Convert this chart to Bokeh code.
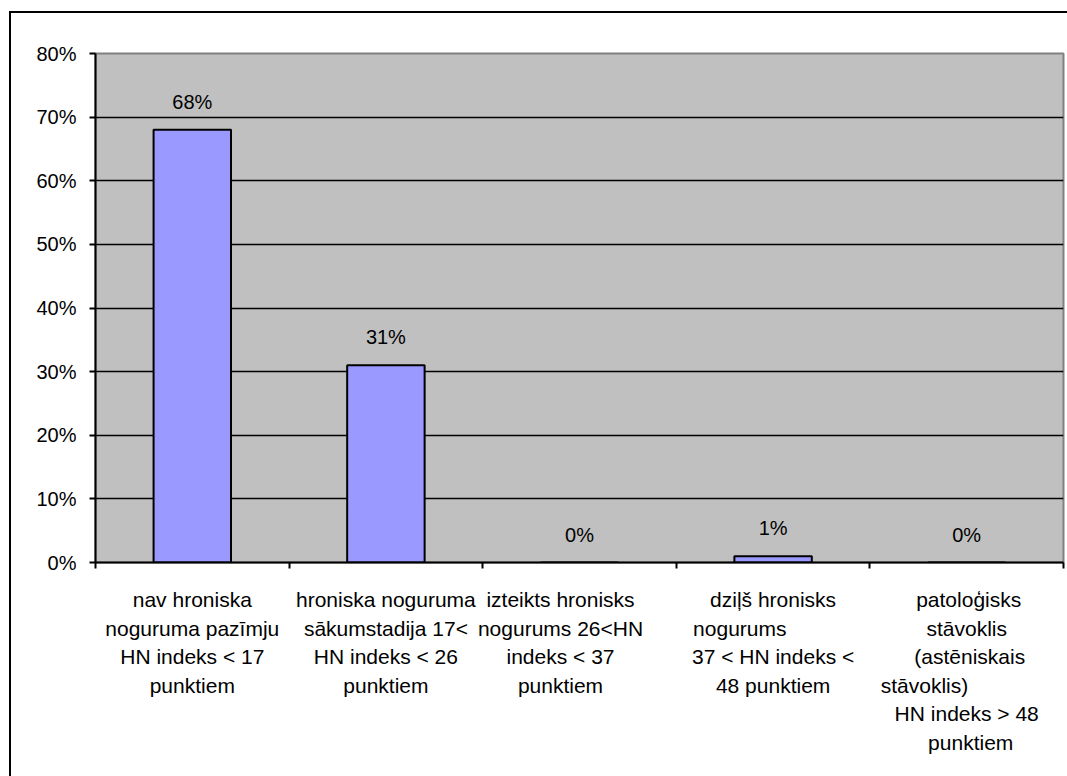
from bokeh.plotting import figure
from bokeh.layouts import column
from bokeh.models import ColumnDataSource, LabelSet, FixedTicker, NumeralTickFormatter, Range1d
from bokeh.core.properties import value
from bokeh.embed import file_html
from bokeh.resources import INLINE

# Share of respondents per chronic-fatigue (HN index) group
groups = [
    "nav hroniska noguruma pazīmju HN indeks < 17 punktiem",
    "hroniska noguruma sākumstadija 17< HN indeks < 26 punktiem",
    "izteikts hronisks nogurums 26<HN indeks < 37 punktiem",
    "dziļš hronisks nogurums 37 < HN indeks < 48 punktiem",
    "patoloģisks stāvoklis (astēniskais stāvoklis) HN indeks > 48 punktiem",
]
shares = [0.68, 0.31, 0.00, 0.01, 0.00]

# Wrapped lines of each group name as they are laid out under the axis
group_lines = [
    ["nav hroniska", "noguruma pazīmju", "HN indeks < 17", "punktiem"],
    ["hroniska noguruma", "sākumstadija 17<", "HN indeks < 26", "punktiem"],
    ["izteikts hronisks", "nogurums 26<HN", "indeks < 37", "punktiem"],
    ["dziļš hronisks", "nogurums", "37 < HN indeks <", "48 punktiem"],
    ["patoloģisks", "stāvoklis", "(astēniskais", "stāvoklis)", "HN indeks > 48", "punktiem"],
]
y_ticks = [0.0, 0.1, 0.2, 0.3, 0.4, 0.5, 0.6, 0.7, 0.8]

# ---- layout constants -------------------------------------------------
W = 1056
LEFT, TOP, RIGHT = 84, 40, 4
FRAME_H = 509
AXIS_H = 14
MAIN_H = TOP + FRAME_H + AXIS_H
NAMES_H = 763 - MAIN_H
Y_MAX = 0.8
N = len(groups)
FRAME_W = W - LEFT - RIGHT
PX_X = N / FRAME_W          # data units per pixel, horizontally
PX_Y = Y_MAX / FRAME_H      # data units per pixel, vertically
FONT = "Liberation Sans"
FS = "20px"
NAME_FS = "21px"
LINE_GAP = 28.5             # spacing between wrapped lines, px
FIRST_BASE = 23             # first baseline below the top of the name strip, px

# horizontal placement of each wrapped line: (pixel shift from group centre, alignment)
line_place = [
    [(0, "center")] * 4,
    [(0, "center")] * 4,
    [(-19, "center")] * 4,
    [(0, "center"), (-80, "left"), (0, "center"), (0, "center")],
    [(2, "center"), (0, "center"), (3, "center"), (-86, "left"), (0, "center"), (4, "center")],
]

p = figure(
    width=W, height=MAIN_H,
    x_range=Range1d(0, N), y_range=Range1d(0, Y_MAX),
    output_backend="svg", toolbar_location=None, tools="",
    min_border_left=LEFT, min_border_top=TOP,
    min_border_right=RIGHT, min_border_bottom=AXIS_H,
)
p.background_fill_color = "#C0C0C0"
p.border_fill_color = "white"
p.outline_line_color = "#808080"
p.outline_line_width = 2

# bars
centers = [i + 0.5 for i in range(N)]
bar_src = ColumnDataSource(dict(x=centers, top=shares))
p.vbar(x="x", top="top", width=0.4, bottom=0, source=bar_src,
       fill_color="#9999FF", line_color="black", line_width=2)

# value labels above bars
val_src = ColumnDataSource(dict(
    x=centers,
    y=[s + 21 * PX_Y for s in shares],
    t=[f"{round(s * 100)}%" for s in shares],
))
p.add_layout(LabelSet(x="x", y="y", text="t", source=val_src,
                      text_align="center", text_baseline="alphabetic",
                      text_font=value(FONT), text_font_size=value(FS),
                      text_color="black"))

# y axis
p.yaxis.ticker = FixedTicker(ticks=y_ticks)
p.yaxis.formatter = NumeralTickFormatter(format="0%")
p.yaxis.major_label_text_font = FONT
p.yaxis.major_label_text_font_size = FS
p.yaxis.major_label_text_color = "black"
p.yaxis.major_label_standoff = 13
p.yaxis.major_tick_in = 0
p.yaxis.major_tick_out = 6
p.yaxis.minor_tick_line_color = None
p.yaxis.axis_line_width = 2
p.yaxis.major_tick_line_width = 2
p.yaxis.axis_line_color = "black"
p.yaxis.major_tick_line_color = "black"

# x axis: ticks on group boundaries, names drawn in the strip below
p.xaxis.ticker = FixedTicker(ticks=list(range(N + 1)))
p.xaxis.major_label_overrides = {k: "" for k in range(N + 1)}
p.xaxis.major_label_text_font_size = "1px"
p.xaxis.major_label_standoff = 0
p.xaxis.major_tick_in = 0
p.xaxis.major_tick_out = 6
p.xaxis.minor_tick_line_color = None
p.xaxis.axis_line_width = 2
p.xaxis.major_tick_line_width = 2
p.xaxis.axis_line_color = "black"
p.xaxis.major_tick_line_color = "black"

# grid
p.xgrid.grid_line_color = None
p.ygrid.ticker = FixedTicker(ticks=y_ticks[1:-1])
p.ygrid.grid_line_color = "black"
p.ygrid.grid_line_width = 1.5
p.ygrid.grid_line_alpha = 1.0

# strip with the wrapped group names, sharing the bar chart's x scale
names = figure(
    width=W, height=NAMES_H,
    x_range=p.x_range, y_range=Range1d(NAMES_H, 0),
    output_backend="svg", toolbar_location=None, tools="",
    x_axis_location=None, y_axis_location=None,
    min_border_left=LEFT, min_border_right=RIGHT,
    min_border_top=0, min_border_bottom=0,
)
names.outline_line_color = None
names.background_fill_color = "white"
names.border_fill_color = "white"
names.xgrid.grid_line_color = None
names.ygrid.grid_line_color = None

for align in ("center", "left"):
    xs, ys, ts = [], [], []
    for i, lines in enumerate(group_lines):
        for j, line in enumerate(lines):
            dx, a = line_place[i][j]
            if a != align:
                continue
            xs.append(centers[i] + dx * PX_X)
            ys.append(FIRST_BASE + LINE_GAP * j)
            ts.append(line)
    names.text(x=xs, y=ys, text=ts, text_align=align, text_baseline="alphabetic",
               text_font=value(FONT), text_font_size=value(NAME_FS), text_color="black")

layout = column(p, names, spacing=0)
layout.styles = {"border-left": "2px solid black", "border-top": "2px solid black",
                 "margin-left": "9px", "margin-top": "11px"}

open("out.html", "w").write(file_html(layout, INLINE))
